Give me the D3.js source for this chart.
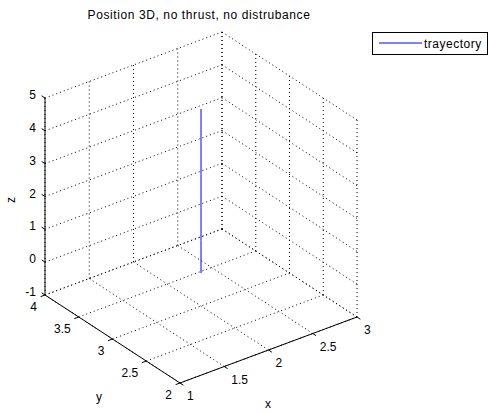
<!DOCTYPE html>
<html>
<head>
<meta charset="utf-8">
<script src="https://cdn.jsdelivr.net/npm/d3@7/dist/d3.min.js"></script>
<style>
  html, body { margin: 0; padding: 0; background: #fff; }
  svg { display: block; }
  text { font-family: "Liberation Sans", Arial, Helvetica, sans-serif; fill: #000; }
</style>
</head>
<body>
<svg id="chart" width="489" height="413"></svg>
<script>
// Trajectory samples (vertical descent at x = 2, y = 3)
const trajX = [2, 2, 2, 2, 2, 2];
const trajY = [3, 3, 3, 3, 3, 3];
const trajZ = [5, 4, 3, 2, 1, 0];

// Axis limits and tick labels
const xLim = [1, 3];
const yLim = [2, 4];
const zLim = [-1, 5];
const xTicks = [1, 1.5, 2, 2.5, 3];
const yTicks = [2, 2.5, 3, 3.5, 4];
const zTicks = [-1, 0, 1, 2, 3, 4, 5];
const xTickLabels = ["1", "1.5", "2", "2.5", "3"];
const yTickLabels = ["2", "2.5", "3", "3.5", "4"];
const zTickLabels = ["-1", "0", "1", "2", "3", "4", "5"];

const titleText = "Position 3D, no thrust, no distrubance";
const legendLabel = "trayectory";

const svg = d3.select("#chart");

// Orthographic 3D view: each data axis contributes a horizontal and a vertical screen offset
const origin = [180, 383]; // screen point of (xLim[0], yLim[0], zLim[0])
const xH = d3.scaleLinear().domain(xLim).range([0, 177]);
const xV = d3.scaleLinear().domain(xLim).range([0, -66]);
const yH = d3.scaleLinear().domain(yLim).range([0, -135]);
const yV = d3.scaleLinear().domain(yLim).range([0, -88]);
const zV = d3.scaleLinear().domain(zLim).range([0, -197]);

function proj(x, y, z) {
  return [origin[0] + xH(x) + yH(y), origin[1] + xV(x) + yV(y) + zV(z)];
}

const line3 = d3.line().x(d => d[0]).y(d => d[1]);

// Grid: floor plane and the two back walls
const grid = svg.append("g")
  .attr("fill", "none")
  .attr("stroke", "#000")
  .attr("stroke-width", 1)
  .attr("stroke-dasharray", "1,3");

const gridSegs = [];
const [x0, x1] = xLim, [y0, y1] = yLim, [z0, z1] = zLim;
// floor
xTicks.forEach(x => gridSegs.push([[x, y0, z0], [x, y1, z0]]));
yTicks.forEach(y => gridSegs.push([[x0, y, z0], [x1, y, z0]]));
// back wall at y = y1
xTicks.forEach(x => gridSegs.push([[x, y1, z0], [x, y1, z1]]));
zTicks.forEach(z => gridSegs.push([[x0, y1, z], [x1, y1, z]]));
// back wall at x = x1
yTicks.forEach(y => gridSegs.push([[x1, y, z0], [x1, y, z1]]));
zTicks.forEach(z => gridSegs.push([[x1, y0, z], [x1, y1, z]]));

grid.selectAll("path")
  .data(gridSegs)
  .join("path")
  .attr("d", d => line3(d.map(p => proj(...p))));

// Axis lines
const axes = svg.append("g").attr("stroke", "#000").attr("fill", "none").attr("stroke-width", 1);
axes.append("path").attr("d", line3([proj(x0, y0, z0), proj(x1, y0, z0)]));
axes.append("path").attr("d", line3([proj(x0, y0, z0), proj(x0, y1, z0)]));
axes.append("path").attr("d", line3([proj(x0, y1, z0), proj(x0, y1, z1)]));

// Tick marks
const tickLen = 0.025;
axes.selectAll(".xt").data(xTicks).join("path").attr("class", "xt")
  .attr("d", x => line3([proj(x, y0, z0), proj(x, y0 - tickLen * (y1 - y0), z0)]));
axes.selectAll(".yt").data(yTicks).join("path").attr("class", "yt")
  .attr("d", y => line3([proj(x0, y, z0), proj(x0 - tickLen * (x1 - x0), y, z0)]));
axes.selectAll(".zt").data(zTicks).join("path").attr("class", "zt")
  .attr("d", z => line3([proj(x0, y1, z), proj(x0, y1 + tickLen * (y1 - y0), z)]));

// Tick labels
const fs = 12;
svg.append("g").selectAll("text").data(xTicks).join("text")
  .attr("x", x => proj(x, y0, z0)[0] + 7)
  .attr("y", x => proj(x, y0, z0)[1] + 17)
  .attr("font-size", fs)
  .text((x, i) => xTickLabels[i]);

svg.append("g").selectAll("text").data(yTicks).join("text")
  .attr("x", y => proj(x0, y, z0)[0] - 8)
  .attr("y", y => proj(x0, y, z0)[1] + 16)
  .attr("text-anchor", "end")
  .attr("font-size", fs)
  .text((y, i) => yTickLabels[i]);

svg.append("g").selectAll("text").data(zTicks).join("text")
  .attr("x", z => proj(x0, y1, z)[0] - 9)
  .attr("y", z => proj(x0, y1, z)[1] + 1)
  .attr("text-anchor", "end")
  .attr("font-size", fs)
  .text((z, i) => zTickLabels[i]);

// Axis labels
svg.append("text").attr("x", 268).attr("y", 408).attr("text-anchor", "middle")
  .attr("font-size", fs).text("x");
svg.append("text").attr("x", 99).attr("y", 401).attr("text-anchor", "middle")
  .attr("font-size", fs).text("y");
svg.append("text").attr("transform", "translate(15,200) rotate(-90)")
  .attr("text-anchor", "middle").attr("font-size", fs).text("z");

// Title
svg.append("text").attr("x", 199).attr("y", 19).attr("text-anchor", "middle")
  .attr("font-size", fs).attr("letter-spacing", 0.6).text(titleText);

// Trajectory
const traj = trajX.map((x, i) => proj(x, trajY[i], trajZ[i]));
svg.append("path")
  .attr("d", line3(traj))
  .attr("fill", "none")
  .attr("stroke", "#0000ff")
  .attr("stroke-width", 1);

// Legend
const lg = svg.append("g");
lg.append("rect").attr("x", 372.5).attr("y", 32.5).attr("width", 115).attr("height", 22)
  .attr("fill", "#fff").attr("stroke", "#000");
lg.append("line").attr("x1", 379).attr("x2", 422).attr("y1", 43).attr("y2", 43)
  .attr("stroke", "#0000ff").attr("stroke-width", 1);
lg.append("text").attr("x", 424).attr("y", 48).attr("font-size", fs)
  .attr("letter-spacing", 0.5).text(legendLabel);
</script>
</body>
</html>
